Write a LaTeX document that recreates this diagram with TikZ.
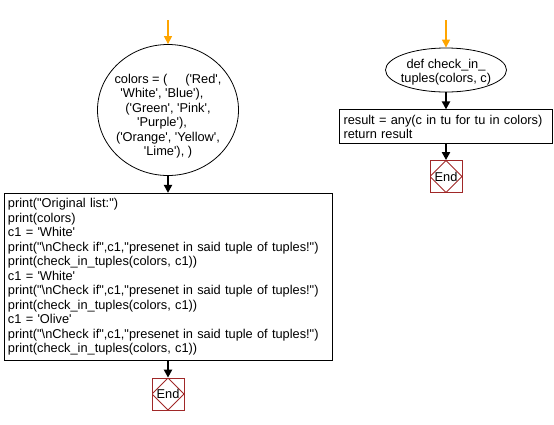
\documentclass[tikz,border=0pt]{standalone}
\usepackage{fontspec}
\newfontfamily\codefont{Liberation Sans}
\usetikzlibrary{arrows.meta, positioning, shapes.geometric}

\definecolor{entryorange}{RGB}{255,165,0}
\definecolor{endred}{RGB}{160,40,40}

% text in a box of no size, so that the ellipse keeps its own size;
% #1 lifts the first line above the centre
\newcommand\flowtext[2][0pt]{\makebox[0pt]{\raisebox{#1}[0pt][0pt]{\begin{tabular}[t]{@{}c@{}}#2\end{tabular}}}}

\begin{document}
\begin{tikzpicture}[
    x=1pt, y=-1pt,
    every node/.style={font=\codefont\fontsize{12.8}{14.5}\selectfont},
    start/.style={ellipse, draw=black, line width=0.8pt, inner sep=0pt},
    proc/.style={rectangle, draw=black, line width=0.8pt, align=left, inner xsep=4pt, inner ysep=5pt},
    stopnode/.style={rectangle, draw=endred, line width=0.8pt, minimum size=32pt, inner sep=0pt,
        path picture={\draw[endred, line width=0.8pt] (path picture bounding box.north) -- (path picture bounding box.east)
            -- (path picture bounding box.south) -- (path picture bounding box.west) -- cycle;}},
    flow/.style={-{Triangle[length=8pt, width=8pt]}, line width=2.2pt},
    entry/.style={-{Triangle[length=8pt, width=8pt]}, line width=1.2pt, draw=entryorange}
]
    \useasboundingbox (0,0) rectangle (554,424);

    % ===================== MAIN PROGRAM =====================
    \coordinate (in1) at (168,20);
    \node[start, minimum width=141pt, minimum height=131pt] (colors) at (168,110)
        {\flowtext[27pt]{colors = (\ \ \ \ \ ('Red',\\'White', 'Blue'),\hspace*{12pt}\\('Green', 'Pink',\\'Purple'),\hspace*{12pt}\\('Orange', 'Yellow',\\'Lime'), )}};
    \node[proc, text width=320pt, below=17pt of colors] (main) {%
        print("Original list:")\\
        print(colors)\\
        c1 = 'White'\\
        print("\textbackslash nCheck if",c1,"presenet in said tuple of tuples!")\\
        print(check\_in\_tuples(colors, c1))\\
        c1 = 'White'\\
        print("\textbackslash nCheck if",c1,"presenet in said tuple of tuples!")\\
        print(check\_in\_tuples(colors, c1))\\
        c1 = 'Olive'\\
        print("\textbackslash nCheck if",c1,"presenet in said tuple of tuples!")\\
        print(check\_in\_tuples(colors, c1))};
    \node[stopnode, below=17pt of main] (end1) {End};

    \draw[entry] (in1) -- (colors);
    \draw[flow] (colors) -- (main);
    \draw[flow] (main) -- (end1);

    % ===================== FUNCTION =====================
    \coordinate (in2) at (446,20);
    \node[start, minimum width=121pt, minimum height=44pt] (func) at (446,70)
        {\flowtext[2pt]{def check\_in\_\\tuples(colors, c)}};
    \node[proc, text width=205pt, below=17pt of func] (body) {%
        result = any(c in tu for tu in colors)\\
        return result};
    \node[stopnode, below=16pt of body] (end2) {End};

    \draw[entry] (in2) -- (func);
    \draw[flow] (func) -- (body);
    \draw[flow] (body) -- (end2);

\end{tikzpicture}
\end{document}
